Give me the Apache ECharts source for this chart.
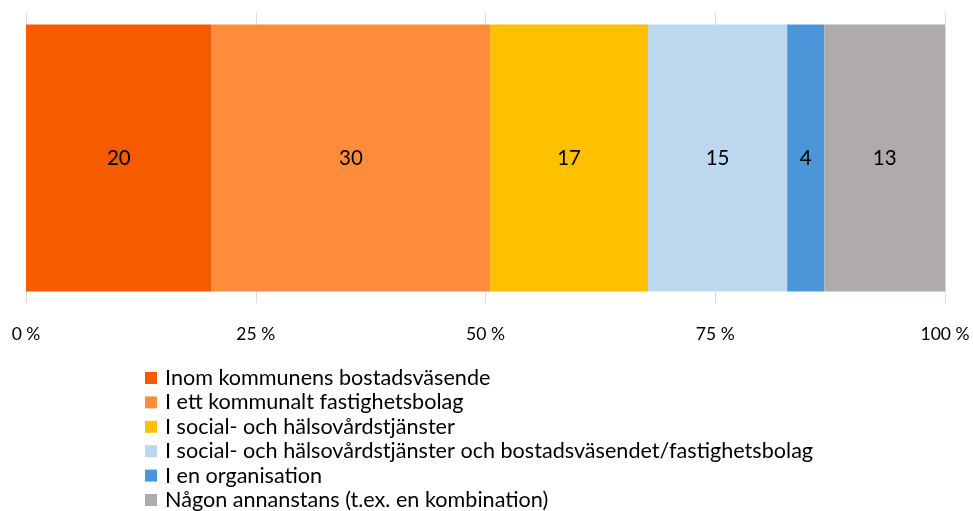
<!DOCTYPE html>
<html><head><meta charset="utf-8">
<script src="https://cdn.jsdelivr.net/npm/echarts@6/dist/echarts.min.js"></script>
<style>html,body{margin:0;padding:0;background:#fff}#c{width:973px;height:511px}</style>
</head><body><div id="c"></div>
<script>
const categories = [''];
const seriesNames = [
  'Inom kommunens bostadsväsende',
  'I ett kommunalt fastighetsbolag',
  'I social- och hälsovårdstjänster',
  'I social- och hälsovårdstjänster och bostadsväsendet/fastighetsbolag',
  'I en organisation',
  'Någon annanstans (t.ex. en kombination)'
];
const values = [20, 30, 17, 15, 4, 13];
const colors = ['#F65B00', '#FF8C3A', '#FFC000', '#BDD7EE', '#4A96D9', '#AFABAB'];
const tickLabels = ['0 %', '25 %', '50 %', '75 %', '100 %'];

const total = values.reduce((a, b) => a + b, 0);
const FONT = 'Lato';
const chart = echarts.init(document.getElementById('c'));
chart.setOption({
  animation: false,
  grid: {left: 26, right: 28, top: 13, bottom: 208},
  legend: {
    orient: 'vertical', left: 145, top: 366, height: 200, padding: 0,
    itemWidth: 12, itemHeight: 12, itemGap: 0.4,
    icon: 'rect',
    textStyle: {fontFamily: FONT, fontSize: 21.6, color: '#000', lineHeight: 24, padding: [0,0,0,3]},
    data: seriesNames
  },
  xAxis: {
    type: 'value', min: 0, max: 100, interval: 25,
    axisLine: {show: false}, axisTick: {show: false},
    splitLine: {lineStyle: {color: '#D9D9D9', width: 1}},
    axisLabel: {margin: 22, fontFamily: FONT, fontSize: 17.5, color: '#000',
      formatter: v => tickLabels[Math.round(v / 25)]}
  },
  yAxis: {type: 'category', data: categories, axisLine: {show: false}, axisTick: {show: false}, axisLabel: {show: false}},
  series: values.map((v, i) => ({
    name: seriesNames[i], type: 'bar', stack: 'a', barWidth: 267,
    itemStyle: {color: colors[i]},
    label: {show: true, position: 'inside', fontFamily: FONT, fontSize: 20.5, color: '#000', formatter: () => String(v)},
    data: [v / total * 100]
  }))
});
</script></body></html>
